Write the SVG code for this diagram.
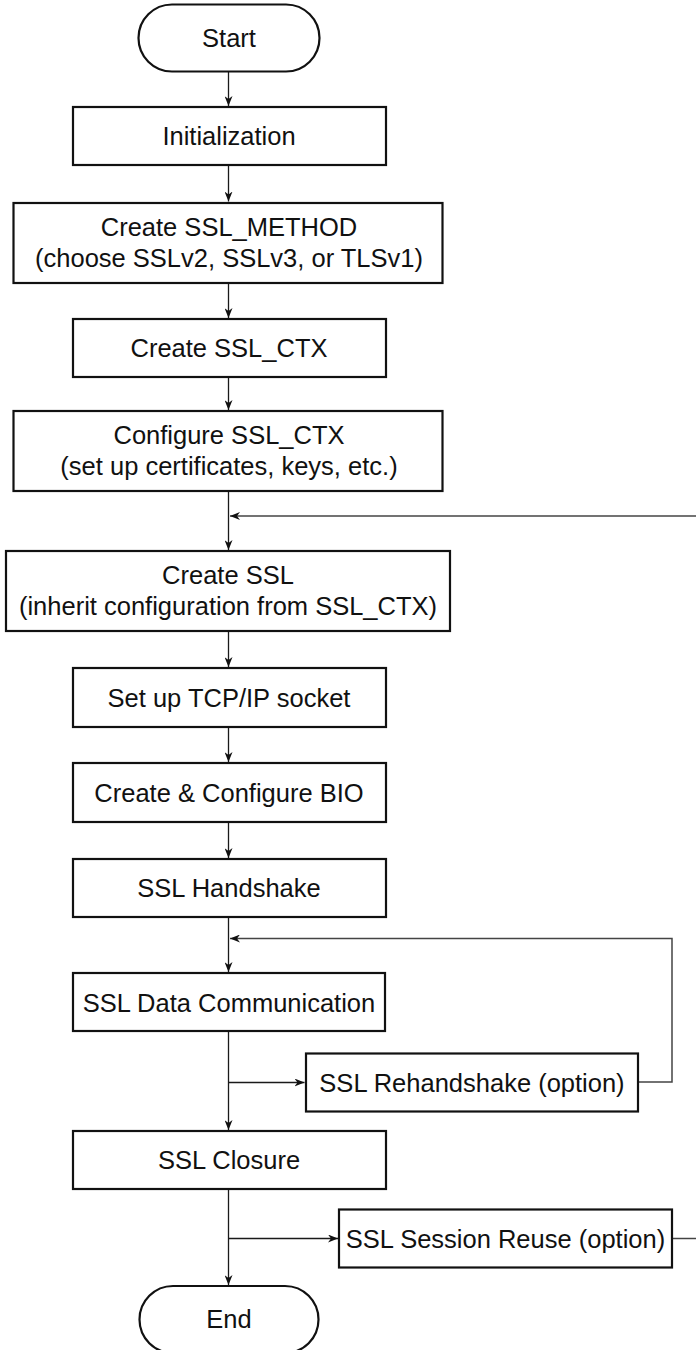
<svg xmlns="http://www.w3.org/2000/svg" width="696" height="1350" viewBox="0 0 696 1350">
<style>
.box{fill:#fff;stroke:#111;stroke-width:2.2}
.ln{fill:none;stroke:#1a1a1a;stroke-width:1.3}
.fb{fill:none;stroke:#444;stroke-width:1.5}
text{font-family:"Liberation Sans",Arial,Helvetica,sans-serif;font-size:25.5px;fill:#111;text-anchor:middle}
</style>
<defs>
<marker id="ah" viewBox="0 0 10 8" markerWidth="10" markerHeight="8" refX="10" refY="4" orient="auto" markerUnits="userSpaceOnUse">
<path d="M0,0 L10,4 L0,8 L3,4 Z" fill="#111"/>
</marker>
</defs>
<g id="connectors">
<line class="ln" x1="228.5" y1="71" x2="228.5" y2="106" marker-end="url(#ah)"/>
<line class="ln" x1="228.5" y1="165" x2="228.5" y2="201.5" marker-end="url(#ah)"/>
<line class="ln" x1="228.5" y1="283" x2="228.5" y2="318" marker-end="url(#ah)"/>
<line class="ln" x1="228.5" y1="377" x2="228.5" y2="410" marker-end="url(#ah)"/>
<line class="ln" x1="228.5" y1="491" x2="228.5" y2="550" marker-end="url(#ah)"/>
<line class="ln" x1="228.5" y1="631" x2="228.5" y2="667" marker-end="url(#ah)"/>
<line class="ln" x1="228.5" y1="727" x2="228.5" y2="762" marker-end="url(#ah)"/>
<line class="ln" x1="228.5" y1="822" x2="228.5" y2="858" marker-end="url(#ah)"/>
<line class="ln" x1="228.5" y1="917" x2="228.5" y2="972" marker-end="url(#ah)"/>
<line class="ln" x1="228.5" y1="1031" x2="228.5" y2="1130" marker-end="url(#ah)"/>
<line class="ln" x1="228.5" y1="1189" x2="228.5" y2="1285" marker-end="url(#ah)"/>
<line class="ln" x1="228.5" y1="1082.5" x2="304.5" y2="1082.5" marker-end="url(#ah)"/>
<line class="ln" x1="228.5" y1="1238.5" x2="338" y2="1238.5" marker-end="url(#ah)"/>
<polyline class="fb" points="638,1082 672,1082 672,938.5 230,938.5" marker-end="url(#ah)"/>
<line class="fb" x1="696" y1="516" x2="230" y2="516" marker-end="url(#ah)"/>
<line class="fb" x1="672" y1="1238.5" x2="696" y2="1238.5"/>
</g>
<g id="start">
<rect class="box" x="138.5" y="4.5" width="181" height="67" rx="33.5" ry="33.5"/>
<text x="229" y="47">Start</text>
</g>
<g id="init">
<rect class="box" x="73" y="107" width="313" height="58"/>
<text x="229" y="145">Initialization</text>
</g>
<g id="method">
<rect class="box" x="13.5" y="203" width="429" height="80"/>
<text x="229" y="236">Create SSL_METHOD</text>
<text x="229" y="267">(choose SSLv2, SSLv3, or TLSv1)</text>
</g>
<g id="ctx">
<rect class="box" x="73" y="319" width="313" height="58"/>
<text x="229" y="357">Create SSL_CTX</text>
</g>
<g id="config">
<rect class="box" x="13.5" y="411" width="429" height="80"/>
<text x="229" y="444">Configure SSL_CTX</text>
<text x="229" y="475">(set up certificates, keys, etc.)</text>
</g>
<g id="ssl">
<rect class="box" x="6" y="551" width="444" height="80"/>
<text x="228" y="584">Create SSL</text>
<text x="228" y="615">(inherit configuration from SSL_CTX)</text>
</g>
<g id="tcp">
<rect class="box" x="73" y="668" width="313" height="59"/>
<text x="229" y="707">Set up TCP/IP socket</text>
</g>
<g id="bio">
<rect class="box" x="73" y="763" width="313" height="59"/>
<text x="229" y="802">Create &amp; Configure BIO</text>
</g>
<g id="handshake">
<rect class="box" x="73" y="859" width="313" height="58"/>
<text x="229" y="897">SSL Handshake</text>
</g>
<g id="data">
<rect class="box" x="73" y="973" width="312" height="58"/>
<text x="229" y="1012">SSL Data Communication</text>
</g>
<g id="rehandshake">
<rect class="box" x="306" y="1053.5" width="332" height="58"/>
<text x="472" y="1092">SSL Rehandshake (option)</text>
</g>
<g id="closure">
<rect class="box" x="73" y="1131" width="313" height="58"/>
<text x="229" y="1168.5">SSL Closure</text>
</g>
<g id="reuse">
<rect class="box" x="339" y="1209.5" width="333" height="58"/>
<text x="505.5" y="1247.5">SSL Session Reuse (option)</text>
</g>
<g id="end">
<rect class="box" x="139.5" y="1286" width="179" height="67" rx="33.5" ry="33.5"/>
<text x="229" y="1328">End</text>
</g>
</svg>
